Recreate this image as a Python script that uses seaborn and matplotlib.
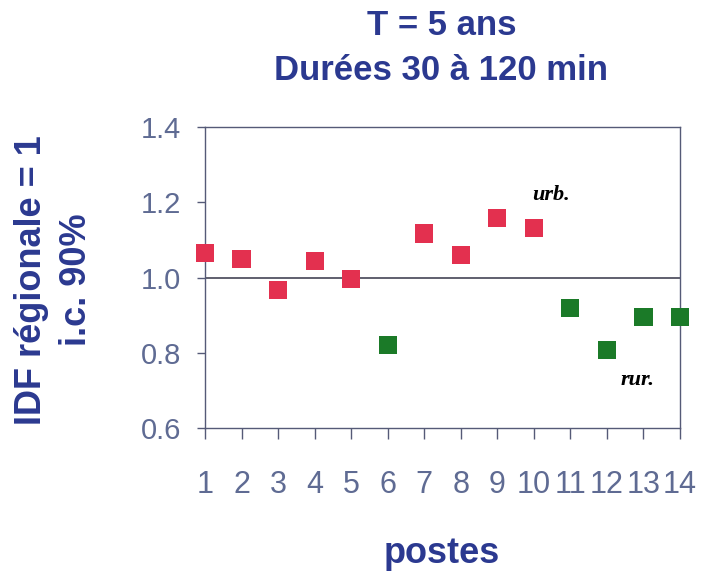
import pandas as pd
import seaborn as sns
import matplotlib.pyplot as plt

OUT_PATH = 'out.png'

# Données
postes = [1, 2, 3, 4, 5, 6, 7, 8, 9, 10, 11, 12, 13, 14]
ratio = [1.064, 1.049, 0.966, 1.044, 0.995, 0.820, 1.117,
         1.060, 1.159, 1.132, 0.920, 0.807, 0.895, 0.895]
type_poste = ['urb', 'urb', 'urb', 'urb', 'urb', 'rur', 'urb',
              'urb', 'urb', 'urb', 'rur', 'rur', 'rur', 'rur']
y_ticks = [0.6, 0.8, 1.0, 1.2, 1.4]

BLEU = '#2b3990'
GRIS_BLEU = '#5f6b93'
TRAIT = '#555a77'


def main():
    sns.set_style('white')
    plt.rcParams['font.family'] = ['Liberation Sans', 'DejaVu Sans']

    df = pd.DataFrame({'poste': postes, 'ratio': ratio, 'type': type_poste})

    fig = plt.figure(figsize=(7.13, 5.74), dpi=100)
    ax = fig.add_axes([0.2875, 0.2544, 0.6662, 0.5243])

    ax.axhline(1.0, color='#444455', lw=1.2, zorder=1)

    sns.scatterplot(data=df, x='poste', y='ratio', hue='type',
                    palette={'urb': '#e3304f', 'rur': '#1b7a28'},
                    marker='s', s=170, edgecolor='none', legend=False,
                    clip_on=False, zorder=3, ax=ax)

    ax.set_xlim(1, 14)
    ax.set_ylim(0.6, 1.4)
    ax.set_xticks(postes)
    ax.set_xticklabels([str(p) for p in postes])
    ax.set_yticks(y_ticks)
    ax.set_yticklabels([f'{v:.1f}' for v in y_ticks])

    for sp in ax.spines.values():
        sp.set_color(TRAIT)
        sp.set_linewidth(1.0)

    ax.tick_params(axis='x', direction='out', length=8, width=1,
                   color=TRAIT, labelsize=22, labelcolor=GRIS_BLEU, pad=22)
    ax.tick_params(axis='y', direction='out', length=6, width=1,
                   color=TRAIT, labelsize=21, labelcolor=GRIS_BLEU, pad=11)
    ax.tick_params(bottom=True, left=True)
    ax.set_xlabel('')
    ax.set_ylabel('')

    # Titres et libellés d'axes
    fig.text(0.619, 0.939, 'T = 5 ans', ha='center', va='baseline',
             fontsize=25, fontweight='bold', color=BLEU)
    fig.text(0.619, 0.861, 'Durées 30 à 120 min', ha='center', va='baseline',
             fontsize=25, fontweight='bold', color=BLEU)
    fig.text(0.619, 0.019, 'postes', ha='center', va='baseline',
             fontsize=26, fontweight='bold', color=BLEU)
    fig.text(0.076, 0.512, 'IDF régionale = 1\ni.c. 90%', rotation=90,
             ha='center', va='center', multialignment='center',
             fontsize=26, fontweight='bold', color=BLEU, linespacing=1.35)

    # Annotations manuscrites
    ax.text(9.95, 1.206, 'urb.', fontsize=16, style='italic', fontweight='bold',
            color='black', family=['Liberation Serif', 'DejaVu Serif'])
    ax.text(12.36, 0.714, 'rur.', fontsize=16, style='italic', fontweight='bold',
            color='black', family=['Liberation Serif', 'DejaVu Serif'])

    fig.savefig(OUT_PATH, dpi=100)


if __name__ == '__main__':
    main()
